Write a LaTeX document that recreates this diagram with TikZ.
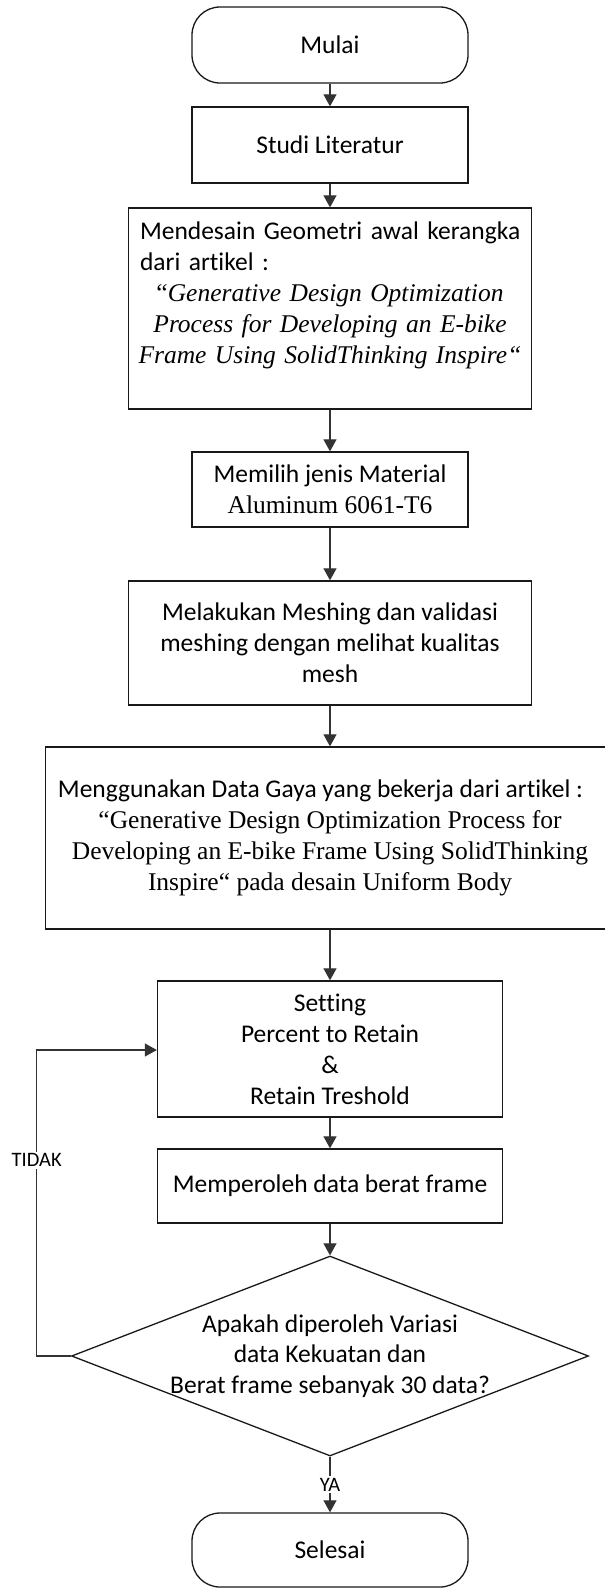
\documentclass[tikz,border=0pt]{standalone}
\usepackage{fontspec}
\setmainfont{Carlito}[Ligatures=NoCommon]
\newfontfamily\tnr{Liberation Serif}
\usetikzlibrary{shapes.geometric,arrows.meta}
\begin{document}
\begin{tikzpicture}[x=1pt,y=-1pt,
  every node/.style={font=\fontsize{25.5pt}{31pt}\selectfont, inner sep=0pt},
  box/.style={draw=black!90, line width=1.3pt, fill=white, align=center},
  term/.style={box, rounded corners=28pt, minimum width=276pt, minimum height=76pt},
  decision/.style={draw=black!90, line width=1.3pt, diamond, minimum width=517pt, minimum height=200pt},
  flow/.style={draw=black!80, line width=1.1pt, -{Triangle[length=12pt,width=13pt]}},
  lbl/.style={font=\fontsize{20.5pt}{24pt}\selectfont, fill=white, inner sep=2pt}
]
\clip (0,0) rectangle (605,1588);
\useasboundingbox (0,0) rectangle (605,1588);

% process steps
\node[term] (start) at (330,45) {Mulai};
\node[box, minimum width=276pt, minimum height=76pt] (studi) at (330,145) {Studi Literatur};
\node[box, minimum width=403pt, minimum height=201pt, text width=380pt, align=left] (desain) at (330,308.5)
  {\mbox{Mendesain Geometri awal kerangka}\\
   dari artikel :\\
   \makebox[380pt]{\tnr “\itshape Generative Design Optimization}\\
   \makebox[380pt]{\tnr\itshape Process for Developing an E-bike}\\
   \makebox[380pt]{\tnr\itshape Frame Using SolidThinking Inspire“}\\
   \mbox{}};
\node[box, minimum width=276pt, minimum height=75pt] (material) at (330,489.5)
  {Memilih jenis Material\\ {\tnr Aluminum 6061-T6}};
\node[box, minimum width=403pt, minimum height=124pt] (mesh) at (330,643)
  {Melakukan Meshing dan validasi\\ meshing dengan melihat kualitas\\ mesh};
\node[box, minimum width=569pt, minimum height=182pt] (gaya) at (330,838)
  {Menggunakan Data Gaya yang bekerja dari artikel :\hspace*{19pt}\\
   {\tnr “Generative Design Optimization Process for}\\
   {\tnr Developing an E-bike Frame Using SolidThinking}\\
   {\tnr Inspire“ pada desain Uniform Body}};
\node[box, minimum width=345pt, minimum height=136pt] (setting) at (330,1049)
  {Setting\\ Percent to Retain\\ \&\\ Retain Treshold};
\node[box, minimum width=345pt, minimum height=74pt] (berat) at (330,1186)
  {Memperoleh data berat frame};
\node[decision] (cek) at (330,1356) {};
\node[align=center, font=\fontsize{25.5pt}{30.5pt}\selectfont] (cektxt) at (cek.center)
  {Apakah diperoleh Variasi\\ data Kekuatan dan\\ Berat frame sebanyak 30 data?};
\node[term, minimum height=74pt] (end) at (330,1550) {Selesai};

% connectors
\draw[flow] (start) -- (studi);
\draw[flow] (studi) -- (desain);
\draw[flow] (desain) -- (material);
\draw[flow] (material) -- (mesh);
\draw[flow] (mesh) -- (gaya);
\draw[flow] (gaya) -- (setting);
\draw[flow] (setting) -- (berat);
\draw[flow] (berat) -- (cek.north);
\draw[flow] (cek.south) -- node[lbl] (ya) {YA} (end);

% loop back when the data set is not complete
\coordinate (fbA) at (36.7,1356);
\coordinate (fbB) at (36.7,1050);
\draw[flow] (cek.west) -- (fbA) -- node[lbl, pos=0.64] (tidak) {TIDAK} (fbB) -- (fbB -| setting.west);
\end{tikzpicture}
\end{document}
